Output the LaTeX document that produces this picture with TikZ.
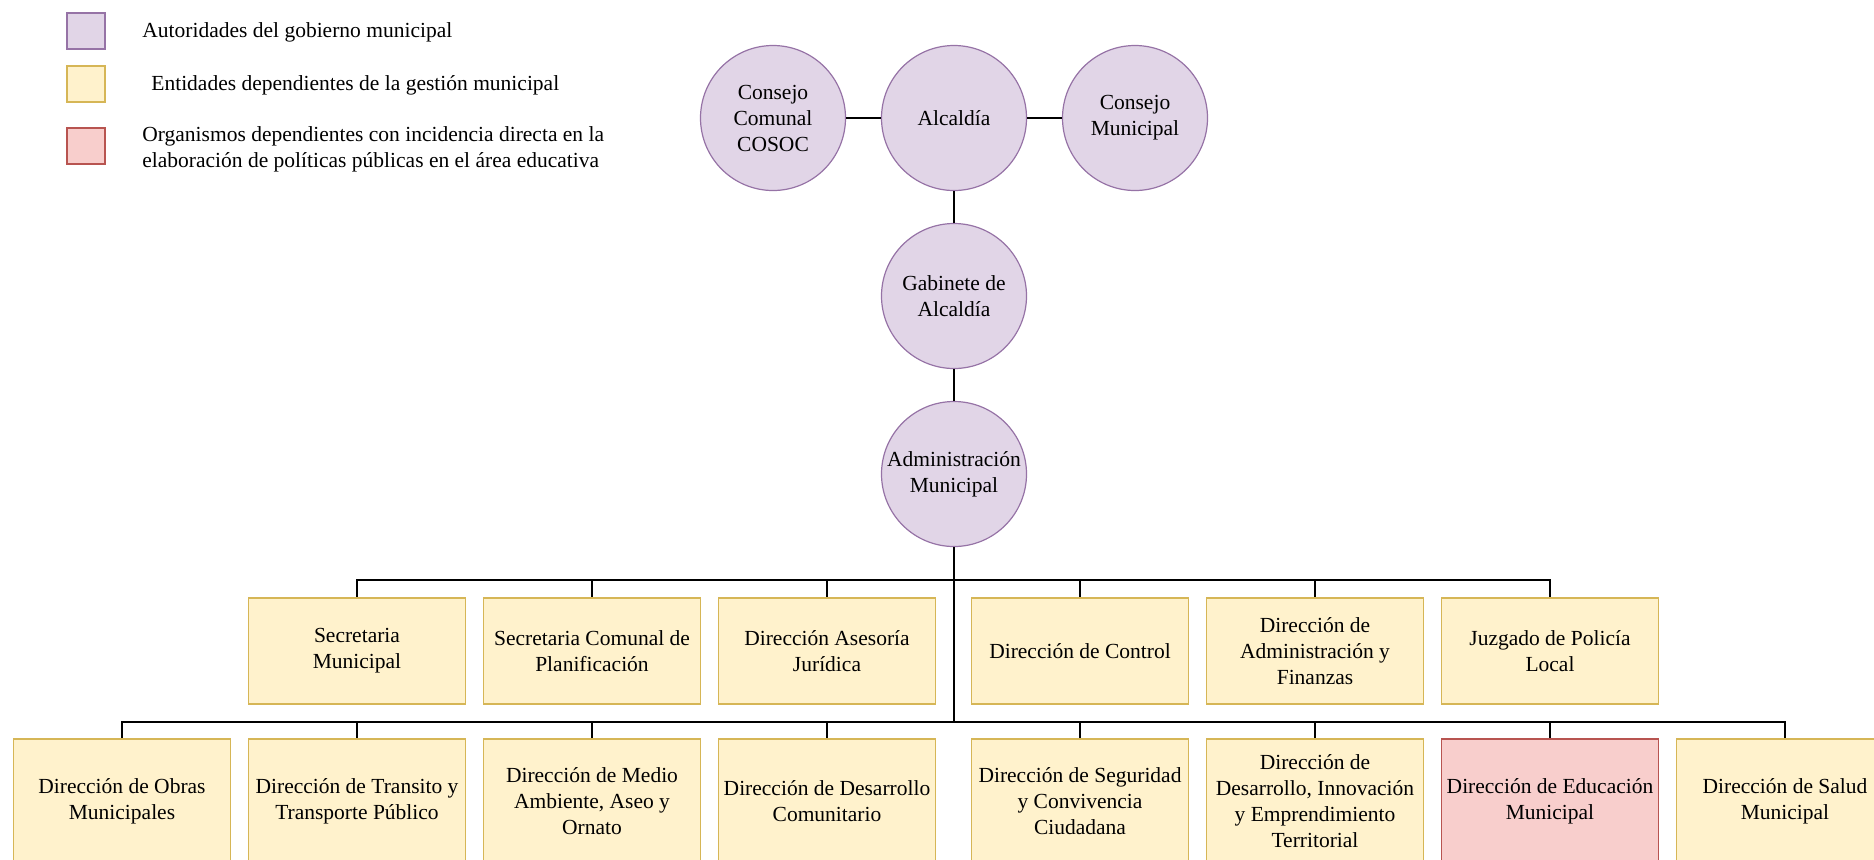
\documentclass[tikz,border=0pt]{standalone}
\usepackage{fontspec}
\setmainfont{Liberation Serif}
\definecolor{autfill}{HTML}{E1D5E7}
\definecolor{autdraw}{HTML}{9673A6}
\definecolor{entfill}{HTML}{FFF2CC}
\definecolor{entdraw}{HTML}{D6B656}
\definecolor{orgfill}{HTML}{F8CECC}
\definecolor{orgdraw}{HTML}{B85450}

\begin{document}
\begin{tikzpicture}[x=0.5pt,y=-0.5pt,
  every node/.style={font=\fontsize{10.75}{13}\selectfont,align=center},
  autoridad/.style={circle,draw=autdraw,fill=autfill,line width=0.6pt,minimum size=72.5pt,inner sep=0pt},
  entidad/.style={rectangle,draw=entdraw,fill=entfill,line width=0.6pt,minimum width=108.5pt,minimum height=53pt,inner sep=0pt},
  entidadbaja/.style={entidad,minimum height=62pt},
  organismo/.style={entidadbaja,draw=orgdraw,fill=orgfill},
  muestra/.style={rectangle,line width=0.6pt,minimum width=19pt,minimum height=18pt,inner sep=0pt},
  leyenda/.style={anchor=west,inner sep=0pt,align=left},
  linea/.style={line width=0.7pt}]
  \useasboundingbox (0,0) rectangle (1874,859);
  \clip (0,0) rectangle (1874,859);

  \node [muestra,draw=autdraw,fill=autfill] (legaut) at (86,31) {};
  \node [muestra,draw=entdraw,fill=entfill] (legent) at (86,84) {};
  \node [muestra,draw=orgdraw,fill=orgfill] (legorg) at (86,146) {};
  \node [leyenda] (txtaut) at (142,32) {Autoridades del gobierno municipal};
  \node [leyenda] (txtent) at (151,85) {Entidades dependientes de la gestión municipal};
  \node [leyenda] (txtorg) at (142,149) {Organismos dependientes con incidencia directa en la\\elaboración de políticas públicas en el área educativa};

  \node [autoridad] (alc) at (954,118) {Alcaldía};
  \node [autoridad] (cosoc) at (773,118) {Consejo\\Comunal\\COSOC};
  \node [autoridad] (concejo) at (1135,118) {Consejo\\Municipal};
  \node [autoridad] (gab) at (954,296) {Gabinete de\\Alcaldía};
  \node [autoridad] (adm) at (954,474) {Administración\\Municipal};

  \node [entidad] (secmun) at (357,651) {Secretaria\\Municipal};
  \node [entidad] (secpla) at (592,651) {Secretaria Comunal de\\Planificación};
  \node [entidad] (juridica) at (827,651) {Dirección Asesoría\\Jurídica};
  \node [entidad] (control) at (1080,651) {Dirección de Control};
  \node [entidad] (finanzas) at (1315,651) {Dirección de\\Administración y\\Finanzas};
  \node [entidad] (juzgado) at (1550,651) {Juzgado de Policía\\Local};

  \node [entidadbaja] (obras) at (122,801) {Dirección de Obras\\Municipales};
  \node [entidadbaja] (transito) at (357,801) {Dirección de Transito y\\Transporte Público};
  \node [entidadbaja] (ambiente) at (592,801) {Dirección de Medio\\Ambiente, Aseo y\\Ornato};
  \node [entidadbaja] (comunitario) at (827,801) {Dirección de Desarrollo\\Comunitario};
  \node [entidadbaja] (seguridad) at (1080,801) {Dirección de Seguridad\\y Convivencia\\Ciudadana};
  \node [entidadbaja] (innovacion) at (1315,801) {Dirección de\\Desarrollo, Innovación\\y Emprendimiento\\Territorial};
  \node [organismo] (educacion) at (1550,801) {Dirección de Educación\\Municipal};
  \node [entidadbaja] (salud) at (1785,801) {Dirección de Salud\\Municipal};

  \coordinate (bus1) at (954,580);
  \coordinate (bus2) at (954,722);

  \draw [linea] (cosoc) -- (alc) -- (concejo);
  \draw [linea] (alc) -- (gab) -- (adm);
  \draw [linea] (adm.south) -- (bus2);
  \draw [linea] (bus1) -| (secmun.north);
  \draw [linea] (bus1) -| (secpla.north);
  \draw [linea] (bus1) -| (juridica.north);
  \draw [linea] (bus1) -| (control.north);
  \draw [linea] (bus1) -| (finanzas.north);
  \draw [linea] (bus1) -| (juzgado.north);
  \draw [linea] (bus2) -| (obras.north);
  \draw [linea] (bus2) -| (transito.north);
  \draw [linea] (bus2) -| (ambiente.north);
  \draw [linea] (bus2) -| (comunitario.north);
  \draw [linea] (bus2) -| (seguridad.north);
  \draw [linea] (bus2) -| (innovacion.north);
  \draw [linea] (bus2) -| (educacion.north);
  \draw [linea] (bus2) -| (salud.north);
\end{tikzpicture}
\end{document}
